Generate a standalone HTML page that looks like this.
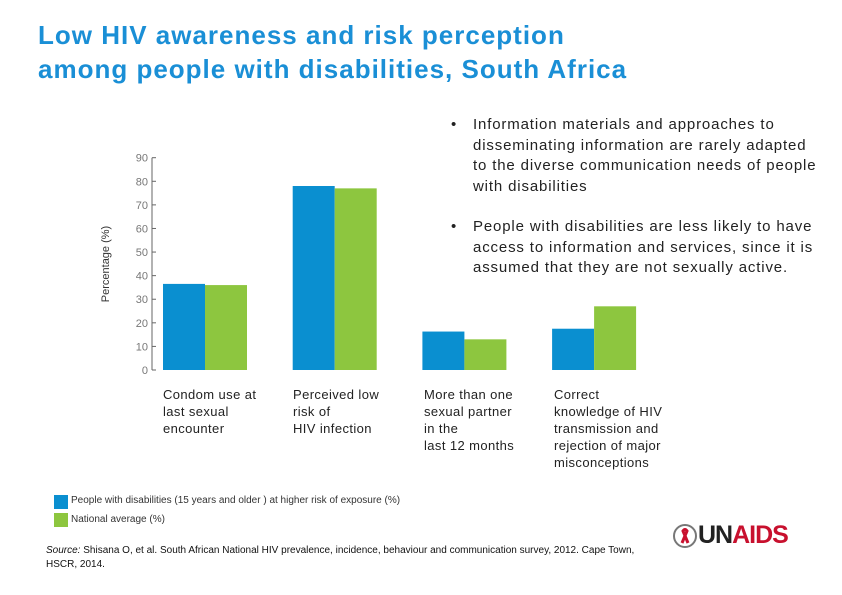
<!DOCTYPE html>
<html><head><meta charset="utf-8"><style>
body{margin:0;width:842px;height:595px;background:#fff;position:relative;font-family:"Liberation Sans",sans-serif;overflow:hidden}
.t{position:absolute;white-space:nowrap}
.title{left:38px;top:18px;font-size:26px;line-height:34px;color:#1a8fd6;font-weight:bold;letter-spacing:1px}
.bul{position:absolute;left:451px;font-size:15px;line-height:20.5px;color:#222}
.bul span{position:absolute;left:22px;white-space:nowrap;letter-spacing:0.85px}
.cat{position:absolute;top:386px;font-size:13px;line-height:17px;color:#222;letter-spacing:0.4px}
</style></head><body>
<div class="t title">Low HIV awareness and risk perception<br>among people with disabilities, South Africa</div>
<div class="bul" style="top:115px">•<span>Information materials and approaches to<br>disseminating information are rarely adapted<br>to the diverse communication needs of people<br>with disabilities</span></div>
<div class="bul" style="top:217px">•<span>People with disabilities are less likely to have<br>access to information and services, since it is<br>assumed that they are not sexually active.</span></div>
<svg id="chart" width="842" height="595" style="position:absolute;left:0;top:0"></svg>
<div class="cat" style="left:163px">Condom use at<br>last sexual<br>encounter</div>
<div class="cat" style="left:293px">Perceived low<br>risk of<br>HIV infection</div>
<div class="cat" style="left:424px">More than one<br>sexual partner<br>in the<br>last 12 months</div>
<div class="cat" style="left:554px">Correct<br>knowledge of HIV<br>transmission and<br>rejection of major<br>misconceptions</div>
<div style="position:absolute;left:54px;top:495px;width:14px;height:14px;background:#0a8fd0"></div>
<div class="t" style="left:71px;top:495px;font-size:10px;color:#333">People with disabilities (15 years and older ) at higher risk of exposure (%)</div>
<div style="position:absolute;left:54px;top:513px;width:14px;height:14px;background:#8dc63f"></div>
<div class="t" style="left:71px;top:514px;font-size:10px;color:#333">National average (%)</div>
<div class="t" style="left:46px;top:544px;font-size:10px;line-height:14px;color:#111"><i>Source:</i> Shisana O, et al. South African National HIV prevalence, incidence, behaviour and communication survey, 2012. Cape Town,<br>HSCR, 2014.</div>
<div class="t" style="left:672px;top:521px">
<svg width="26" height="26" style="vertical-align:middle"><circle cx="13" cy="13" r="11" fill="none" stroke="#777" stroke-width="2"/><path d="M10 20 L15 8 Q13 5 11 8 L16 20" fill="none" stroke="#c8102e" stroke-width="3"/></svg><span style="font-size:25px;font-weight:bold;vertical-align:middle;letter-spacing:-1px"><span style="color:#222">UN</span><span style="color:#c8102e">AIDS</span></span></div>
<script>
const categories=["Condom use","Perceived low risk","More than one partner","Correct knowledge"];
const disabilities=[36.5,78,16.3,17.5];
const national=[36,77,13,27];
const ticks=[0,10,20,30,40,50,60,70,80,90];
const svg=document.getElementById('chart');
const NS='http://www.w3.org/2000/svg';
const y=v=>370-v*(212.3/90);
const gx=i=>163+i*129.7;
function mk(t,a){const e=document.createElementNS(NS,t);for(const k in a)e.setAttribute(k,a[k]);svg.appendChild(e);return e;}
const ax=mk('line',{x1:152,y1:y(0),x2:152,y2:y(90),stroke:'#666','stroke-width':1});


ticks.forEach(t=>{
 const l=mk('line',{x1:152,x2:156,y1:y(t),y2:y(t),stroke:'#666'});
 
 
 const tx=mk('text',{x:148,y:y(t)+4,'text-anchor':'end','font-size':11,fill:'#777','font-family':'Liberation Sans, sans-serif'});
 tx.textContent=t;
 
 
});
const yt=mk('text',{x:0,y:0,transform:'translate(109,264) rotate(-90)','text-anchor':'middle','font-size':11,fill:'#333','font-family':'Liberation Sans, sans-serif'});
yt.textContent='Percentage (%)';


categories.forEach((c,i)=>{
 const b1=mk('rect',{x:gx(i),y:y(disabilities[i]),width:42,height:y(0)-y(disabilities[i]),fill:'#0a8fd0'});
 
 
 const b2=mk('rect',{x:gx(i)+42,y:y(national[i]),width:42,height:y(0)-y(national[i]),fill:'#8dc63f'});
 
 
});
</script>
</body></html>
